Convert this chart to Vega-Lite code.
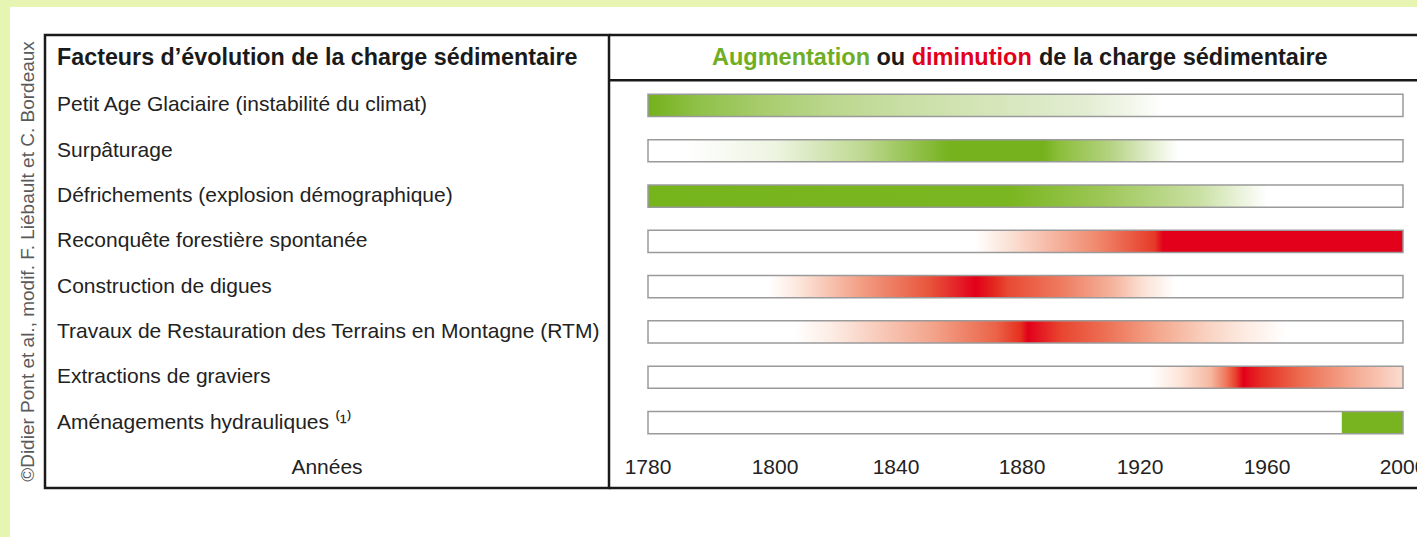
{
  "$schema": "https://vega.github.io/schema/vega-lite/v6.json",
  "padding": 0,
  "background": "white",
  "spacing": 0,
  "bounds": "flush",
  "config": {"view": {"stroke": null}, "font": "Liberation Sans", "concat": {"spacing": 0}},
  "datasets": {
    "facteurs": [
      {"facteur": "Petit Age Glaciaire (instabilité du climat)", "effet": "augmentation", "debut": 1780, "fin": 1927},
      {"facteur": "Surpâturage", "effet": "augmentation", "debut": 1786, "fin": 1932},
      {"facteur": "Défrichements (explosion démographique)", "effet": "augmentation", "debut": 1780, "fin": 1960},
      {"facteur": "Reconquête forestière spontanée", "effet": "diminution", "debut": 1865, "fin": 2000},
      {"facteur": "Construction de digues", "effet": "diminution", "debut": 1799, "fin": 1931},
      {"facteur": "Travaux de Restauration des Terrains en Montagne (RTM)", "effet": "diminution", "debut": 1806, "fin": 1966},
      {"facteur": "Extractions de graviers", "effet": "diminution", "debut": 1923, "fin": 2000},
      {"facteur": "Aménagements hydrauliques ⁽¹⁾", "effet": "augmentation", "debut": 1982, "fin": 2000}
    ],
    "annees": [
      {"annee": "1780", "an": 1780}, {"annee": "1800", "an": 1800}, {"annee": "1840", "an": 1840},
      {"annee": "1880", "an": 1880}, {"annee": "1920", "an": 1920}, {"annee": "1960", "an": 1960},
      {"annee": "2000", "an": 2000}
    ],
    "entetes": [
      {"colonne": "gauche", "ligne": "Facteurs d’évolution de la charge sédimentaire"},
      {"colonne": "gauche", "ligne": "Années"}
    ],
    "credit": [{"texte": "©Didier Pont et al., modif. F. Liébault et C. Bordeaux"}]
  },
  "vconcat": [
    {"width": 1417, "height": 7, "view": {"fill": "#e6f6b2", "stroke": null}, "data": {"values": []}, "mark": "rect", "encoding": {}},
    {
      "spacing": 0,
      "bounds": "flush",
      "hconcat": [
        {"width": 10, "height": 530, "view": {"fill": "#e6f6b2", "stroke": null}, "data": {"values": []}, "mark": "rect", "encoding": {}},
        {
          "spacing": 0,
          "bounds": "flush",
          "vconcat": [
            {"width": 10, "height": 28, "data": {"values": []}, "mark": "rect", "encoding": {}},
            {
              "spacing": 0,
              "bounds": "flush",
              "hconcat": [
                {
                  "width": 35, "height": 453,
                  "data": {"name": "credit"},
                  "mark": {"type": "text", "angle": 270, "fontSize": 19, "color": "#5a5a5a", "align": "center", "baseline": "middle"},
                  "encoding": {"text": {"field": "texte"}}
                },
                {
                  "width": 564, "height": 453,
                  "view": {"stroke": "#1a1a1a", "strokeWidth": 2.5},
                  "layer": [
                    {
                      "data": {"name": "facteurs"},
                      "mark": {"type": "text", "align": "left", "dx": 12, "dy": 2.5, "fontSize": 21, "color": "#222222"},
                      "encoding": {
                        "y": {"field": "facteur", "type": "nominal", "axis": null, "scale": {"type": "band", "paddingInner": 0, "paddingOuter": 0, "domain": ["Facteurs d’évolution de la charge sédimentaire", "Petit Age Glaciaire (instabilité du climat)", "Surpâturage", "Défrichements (explosion démographique)", "Reconquête forestière spontanée", "Construction de digues", "Travaux de Restauration des Terrains en Montagne (RTM)", "Extractions de graviers", "Aménagements hydrauliques ⁽¹⁾", "Années"]}},
                        "x": {"datum": 0, "type": "quantitative", "axis": null, "scale": {"domain": [0, 1], "zero": false, "nice": false}},
                        "text": {"field": "facteur"}
                      }
                    },
                    {
                      "data": {"name": "entetes"},
                      "transform": [{"filter": {"field": "ligne", "equal": "Facteurs d’évolution de la charge sédimentaire"}}],
                      "mark": {"type": "text", "align": "left", "dx": 12, "fontSize": 23.3, "fontWeight": "bold", "color": "#1a1a1a"},
                      "encoding": {
                        "y": {"field": "ligne", "type": "nominal", "axis": null},
                        "x": {"datum": 0, "type": "quantitative", "axis": null},
                        "text": {"field": "ligne"}
                      }
                    },
                    {
                      "data": {"name": "entetes"},
                      "transform": [{"filter": {"field": "ligne", "equal": "Années"}}],
                      "mark": {"type": "text", "align": "center", "dy": 2.5, "fontSize": 21, "color": "#222222"},
                      "encoding": {
                        "y": {"field": "ligne", "type": "nominal", "axis": null},
                        "x": {"datum": 0.5, "type": "quantitative", "axis": null},
                        "text": {"field": "ligne"}
                      }
                    }
                  ]
                },
                {
                  "width": 808, "height": 453,
                  "layer": [
                    {
                      "data": {"name": "facteurs"},
                      "mark": {"type": "bar", "fill": "white", "height": {"band": 0.49}, "yOffset": 2.5},
                      "encoding": {
                        "y": {"field": "facteur", "type": "nominal", "axis": null, "scale": {"type": "band", "paddingInner": 0, "paddingOuter": 0, "domain": ["Facteurs d’évolution de la charge sédimentaire", "Petit Age Glaciaire (instabilité du climat)", "Surpâturage", "Défrichements (explosion démographique)", "Reconquête forestière spontanée", "Construction de digues", "Travaux de Restauration des Terrains en Montagne (RTM)", "Extractions de graviers", "Aménagements hydrauliques ⁽¹⁾", "Années"]}},
                        "x": {"datum": 1780, "type": "quantitative", "axis": null, "scale": {"type": "linear", "domain": [1780, 1800, 1840, 1880, 1920, 1960, 2000], "range": [39, 166, 287, 413, 531, 658, 794], "zero": false, "nice": false}},
                        "x2": {"datum": 2000}
                      }
                    },
                    {
                      "data": {"name": "facteurs"},
                      "transform": [{"filter": {"field": "facteur", "equal": "Petit Age Glaciaire (instabilité du climat)"}}],
                      "mark": {"type": "bar", "height": {"band": 0.49}, "yOffset": 2.5, "fill": {"gradient": "linear", "stops": [
                        {"offset": 0, "color": "#74b11b"}, {"offset": 0.1, "color": "#90c149"}, {"offset": 0.22, "color": "#a7cc6c"},
                        {"offset": 0.355, "color": "#bbd78d"}, {"offset": 0.49, "color": "#c8dea3"}, {"offset": 0.68, "color": "#d6e6bb"},
                        {"offset": 0.85, "color": "#e3edd2"}, {"offset": 0.94, "color": "#f2f7ea"}, {"offset": 1, "color": "#ffffff"}]}},
                      "encoding": {"y": {"field": "facteur", "type": "nominal", "axis": null}, "x": {"field": "debut", "type": "quantitative", "axis": null}, "x2": {"field": "fin"}}
                    },
                    {
                      "data": {"name": "facteurs"},
                      "transform": [{"filter": {"field": "facteur", "equal": "Surpâturage"}}],
                      "mark": {"type": "bar", "height": {"band": 0.49}, "yOffset": 2.5, "fill": {"gradient": "linear", "stops": [
                        {"offset": 0, "color": "#ffffff"}, {"offset": 0.185, "color": "#edf4e0"}, {"offset": 0.36, "color": "#bdd890"},
                        {"offset": 0.535, "color": "#76b21e"}, {"offset": 0.728, "color": "#76b21e"}, {"offset": 0.76, "color": "#8cbf3c"},
                        {"offset": 0.86, "color": "#b3d27f"}, {"offset": 0.94, "color": "#e0ecca"}, {"offset": 1, "color": "#ffffff"}]}},
                      "encoding": {"y": {"field": "facteur", "type": "nominal", "axis": null}, "x": {"field": "debut", "type": "quantitative", "axis": null}, "x2": {"field": "fin"}}
                    },
                    {
                      "data": {"name": "facteurs"},
                      "transform": [{"filter": {"field": "facteur", "equal": "Défrichements (explosion démographique)"}}],
                      "mark": {"type": "bar", "height": {"band": 0.49}, "yOffset": 2.5, "fill": {"gradient": "linear", "stops": [
                        {"offset": 0, "color": "#76b41c"}, {"offset": 0.585, "color": "#7ab621"}, {"offset": 0.73, "color": "#9cc655"},
                        {"offset": 0.89, "color": "#c9e0a3"}, {"offset": 1, "color": "#ffffff"}]}},
                      "encoding": {"y": {"field": "facteur", "type": "nominal", "axis": null}, "x": {"field": "debut", "type": "quantitative", "axis": null}, "x2": {"field": "fin"}}
                    },
                    {
                      "data": {"name": "facteurs"},
                      "transform": [{"filter": {"field": "facteur", "equal": "Reconquête forestière spontanée"}}],
                      "mark": {"type": "bar", "height": {"band": 0.49}, "yOffset": 2.5, "fill": {"gradient": "linear", "stops": [
                        {"offset": 0, "color": "#ffffff"}, {"offset": 0.08, "color": "#fbe2d6"}, {"offset": 0.29, "color": "#f0876b"},
                        {"offset": 0.42, "color": "#e63a28"}, {"offset": 0.44, "color": "#e2001a"}, {"offset": 1, "color": "#e2001a"}]}},
                      "encoding": {"y": {"field": "facteur", "type": "nominal", "axis": null}, "x": {"field": "debut", "type": "quantitative", "axis": null}, "x2": {"field": "fin"}}
                    },
                    {
                      "data": {"name": "facteurs"},
                      "transform": [{"filter": {"field": "facteur", "equal": "Construction de digues"}}],
                      "mark": {"type": "bar", "height": {"band": 0.49}, "yOffset": 2.5, "fill": {"gradient": "linear", "stops": [
                        {"offset": 0, "color": "#ffffff"}, {"offset": 0.07, "color": "#fde8de"}, {"offset": 0.23, "color": "#f29d83"},
                        {"offset": 0.395, "color": "#e8553c"}, {"offset": 0.51, "color": "#e2001a"}, {"offset": 0.555, "color": "#e3281f"},
                        {"offset": 0.59, "color": "#e84a33"}, {"offset": 0.72, "color": "#ee7b5f"}, {"offset": 0.85, "color": "#f5b59e"},
                        {"offset": 0.92, "color": "#fbe0d4"}, {"offset": 1, "color": "#ffffff"}]}},
                      "encoding": {"y": {"field": "facteur", "type": "nominal", "axis": null}, "x": {"field": "debut", "type": "quantitative", "axis": null}, "x2": {"field": "fin"}}
                    },
                    {
                      "data": {"name": "facteurs"},
                      "transform": [{"filter": {"field": "facteur", "equal": "Travaux de Restauration des Terrains en Montagne (RTM)"}}],
                      "mark": {"type": "bar", "height": {"band": 0.49}, "yOffset": 2.5, "fill": {"gradient": "linear", "stops": [
                        {"offset": 0, "color": "#ffffff"}, {"offset": 0.075, "color": "#fdede5"}, {"offset": 0.28, "color": "#f3a58c"},
                        {"offset": 0.41, "color": "#ea6448"}, {"offset": 0.46, "color": "#e6301f"}, {"offset": 0.475, "color": "#e2001a"},
                        {"offset": 0.542, "color": "#e8452f"}, {"offset": 0.64, "color": "#ed7458"}, {"offset": 0.74, "color": "#f4a88e"},
                        {"offset": 0.84, "color": "#f9d3c2"}, {"offset": 0.917, "color": "#fdece3"}, {"offset": 1, "color": "#ffffff"}]}},
                      "encoding": {"y": {"field": "facteur", "type": "nominal", "axis": null}, "x": {"field": "debut", "type": "quantitative", "axis": null}, "x2": {"field": "fin"}}
                    },
                    {
                      "data": {"name": "facteurs"},
                      "transform": [{"filter": {"field": "facteur", "equal": "Extractions de graviers"}}],
                      "mark": {"type": "bar", "height": {"band": 0.49}, "yOffset": 2.5, "fill": {"gradient": "linear", "stops": [
                        {"offset": 0, "color": "#ffffff"}, {"offset": 0.12, "color": "#fde5da"}, {"offset": 0.24, "color": "#f6b9a2"},
                        {"offset": 0.3, "color": "#ef7a5d"}, {"offset": 0.34, "color": "#e8402c"}, {"offset": 0.37, "color": "#e2001a"},
                        {"offset": 0.435, "color": "#e52a22"}, {"offset": 0.59, "color": "#ec6a4e"}, {"offset": 0.79, "color": "#f4a68d"},
                        {"offset": 1, "color": "#fbdccf"}]}},
                      "encoding": {"y": {"field": "facteur", "type": "nominal", "axis": null}, "x": {"field": "debut", "type": "quantitative", "axis": null}, "x2": {"field": "fin"}}
                    },
                    {
                      "data": {"name": "facteurs"},
                      "transform": [{"filter": {"field": "facteur", "equal": "Aménagements hydrauliques ⁽¹⁾"}}],
                      "mark": {"type": "bar", "height": {"band": 0.49}, "yOffset": 2.5, "fill": "#78b41f"},
                      "encoding": {"y": {"field": "facteur", "type": "nominal", "axis": null}, "x": {"field": "debut", "type": "quantitative", "axis": null}, "x2": {"field": "fin"}}
                    },
                    {
                      "data": {"name": "facteurs"},
                      "mark": {"type": "bar", "fill": "transparent", "stroke": "#9a9a9a", "strokeWidth": 1.5, "height": {"band": 0.49}, "yOffset": 2.5},
                      "encoding": {
                        "y": {"field": "facteur", "type": "nominal", "axis": null},
                        "x": {"datum": 1780, "type": "quantitative", "axis": null},
                        "x2": {"datum": 2000}
                      }
                    },
                    {
                      "data": {"name": "annees"},
                      "mark": {"type": "text", "align": "center", "dy": 2.5, "fontSize": 21, "color": "#222222", "clip": true},
                      "encoding": {
                        "y": {"datum": "Années", "type": "nominal", "axis": null},
                        "x": {"field": "an", "type": "quantitative", "axis": null},
                        "text": {"field": "annee", "type": "nominal"}
                      }
                    },
                    {
                      "data": {"values": [{"mot": "Augmentation"}]},
                      "mark": {"type": "text", "align": "right", "dx": -152, "fontSize": 23.5, "fontWeight": "bold", "color": "#6fae23"},
                      "encoding": {"y": {"datum": "Facteurs d’évolution de la charge sédimentaire", "type": "nominal", "axis": null}, "x": {"datum": 1880, "type": "quantitative", "axis": null}, "text": {"field": "mot"}}
                    },
                    {
                      "data": {"values": [{"mot": "ou"}]},
                      "mark": {"type": "text", "align": "left", "dx": -145.5, "fontSize": 23.5, "fontWeight": "bold", "color": "#1a1a1a"},
                      "encoding": {"y": {"datum": "Facteurs d’évolution de la charge sédimentaire", "type": "nominal", "axis": null}, "x": {"datum": 1880, "type": "quantitative", "axis": null}, "text": {"field": "mot"}}
                    },
                    {
                      "data": {"values": [{"mot": "diminution"}]},
                      "mark": {"type": "text", "align": "left", "dx": -110.3, "fontSize": 23.5, "fontWeight": "bold", "color": "#e2001a"},
                      "encoding": {"y": {"datum": "Facteurs d’évolution de la charge sédimentaire", "type": "nominal", "axis": null}, "x": {"datum": 1880, "type": "quantitative", "axis": null}, "text": {"field": "mot"}}
                    },
                    {
                      "data": {"values": [{"mot": "de la charge sédimentaire"}]},
                      "mark": {"type": "text", "align": "left", "dx": 17, "fontSize": 23.5, "fontWeight": "bold", "color": "#1a1a1a"},
                      "encoding": {"y": {"datum": "Facteurs d’évolution de la charge sédimentaire", "type": "nominal", "axis": null}, "x": {"datum": 1880, "type": "quantitative", "axis": null}, "text": {"field": "mot"}}
                    },
                    {
                      "data": {"values": [{"bord": "haut"}]},
                      "mark": {"type": "rule", "color": "#1a1a1a", "strokeWidth": 2.5},
                      "encoding": {"y": {"datum": "Facteurs d’évolution de la charge sédimentaire", "type": "nominal", "bandPosition": 0, "axis": null}}
                    },
                    {
                      "data": {"values": [{"bord": "entete"}]},
                      "mark": {"type": "rule", "color": "#1a1a1a", "strokeWidth": 2.5},
                      "encoding": {"y": {"datum": "Petit Age Glaciaire (instabilité du climat)", "type": "nominal", "bandPosition": 0, "axis": null}}
                    },
                    {
                      "data": {"values": [{"bord": "bas"}]},
                      "mark": {"type": "rule", "color": "#1a1a1a", "strokeWidth": 2.5},
                      "encoding": {"y": {"datum": "Années", "type": "nominal", "bandPosition": 1, "axis": null}}
                    }
                  ]
                }
              ]
            }
          ]
        }
      ]
    }
  ]
}
